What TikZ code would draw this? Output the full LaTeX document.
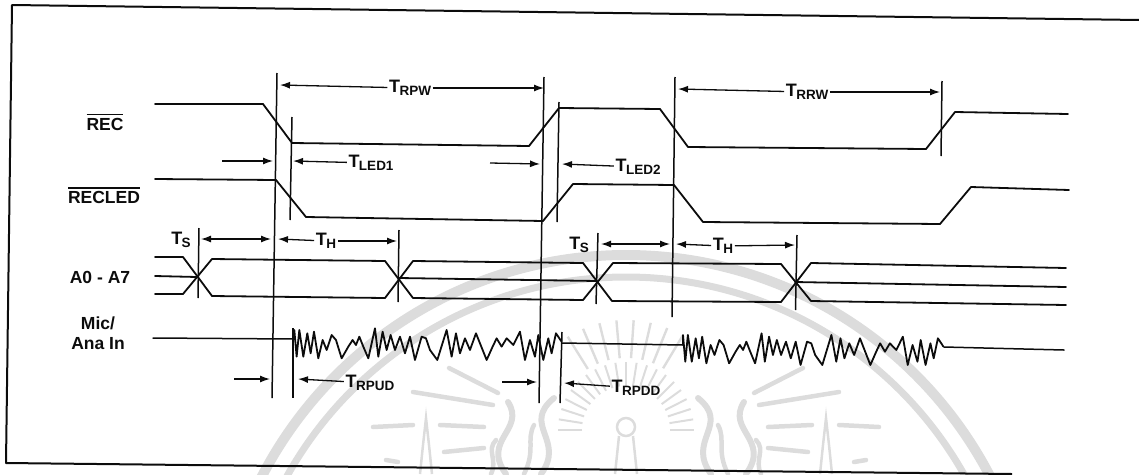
\documentclass[tikz,border=0pt]{standalone}
\usepackage{fontspec}
\setmainfont{Liberation Sans}
\usepackage{xcolor}
\usetikzlibrary{arrows.meta}
\definecolor{sealgray}{HTML}{DCDCDC}
\definecolor{ink}{HTML}{0C0C0C}
\newcommand{\tlab}[1]{{\fontsize{18}{18}\selectfont\bfseries T}\kern-0.5pt\raisebox{-3.5pt}{\fontsize{13.5}{13.5}\selectfont\bfseries #1}}
\newcommand{\barred}[1]{\vbox{\hrule height 1.4pt \kern 3pt \hbox{#1}}}
\newcommand{\noiseburst}{(583,268) \foreach \nx/\ny in {583/240,590/320,598/240,610/320,622/250,632/310,642/245,655/325,668/270,680/300,695/255,708/270,725/325,745/290,758/270,768/285,778/260,790/290,805/325,825/235,835/320,848/245,860/300,872/255,885/300,900/260,915/310,930/260,945/330,965/260,978/265,990/300,1012/330,1040/240,1055/320,1068/250,1080/310,1095/265,1110/300,1128/250,1160/330,1178/290,1190/265,1205/290,1220/265,1240/285,1260/245,1275/330,1290/270,1305/320,1315/255,1330/330,1345/265,1355/310,1368/250,1385/275}{ -- (\nx,\ny)}}
\tikzset{
  sig/.style={draw=ink,line width=1.8pt,line join=round,line cap=round},
  tick/.style={draw=ink,line width=1.5pt},
  dim/.style={draw=ink,line width=1.3pt},
  frameline/.style={draw=ink,line width=2pt,line join=round},
  seal/.style={draw=sealgray,line width=4.5pt,line cap=round},
  sigtext/.style={font=\fontsize{17.5}{20}\selectfont\bfseries,inner sep=0pt,text=ink,align=center},
  timetext/.style={inner sep=1.5pt,text=ink},
}
\begin{document}
\begin{tikzpicture}[x=1pt,y=-1pt,>={Latex[length=10pt,width=7pt]}]
  \useasboundingbox (0,0) rectangle (1139,474);
  % seal behind the drawing
  \begin{scope}
    \clip (0,0) rectangle (1139,474);
    \draw[draw=sealgray,line width=10pt] (626,665) circle[radius=410];
    \draw[draw=sealgray,line width=7pt] (626,665) circle[radius=388];
    \foreach \ang in {0,9,...,180}{
      \draw[draw=sealgray,line width=2pt] (626,430) ++(\ang:-44) -- ++(\ang:-24);
    }
    \foreach \ang in {58,67,...,122}{
      \draw[draw=sealgray,line width=2.4pt] (626,430) ++(\ang:-72) -- ++(\ang:-38);
    }
    \draw[draw=sealgray,line width=2.5pt] (626,427) circle[radius=9];
    \foreach \side in {1,-1}{
      \begin{scope}[shift={(626,0)},xscale=\side]
        \draw[draw=sealgray,line width=2.5pt] (7,436) -- (11,474);
        \draw[seal] (213,392) -- (133,405);
        \draw[seal] (177,368) -- (128,393);
        \draw[seal] (253,427) -- (213,425);
        \draw[seal] (186,425) -- (142,427);
        \draw[seal] (182,452) -- (142,448);
        \draw[seal] (240,460) -- (228,462);
        \draw[seal,line width=6pt] (120,474) .. controls (145,440) and (100,430) .. (118,402);
        \draw[seal,line width=6pt] (85,474) .. controls (60,440) and (105,425) .. (72,398);
        \draw[seal] (102,474) .. controls (90,450) and (100,440) .. (92,425);
        \draw[seal] (135,474) .. controls (128,460) and (140,450) .. (130,440);
        \draw[draw=sealgray,line width=2.5pt] (206,474) -- (203,445) -- (200,418) -- (197,445) -- (194,474);
      \end{scope}
    }
  \end{scope}
  % frame
  \coordinate (frameA) at (1139,20);
  \coordinate (frameB) at (12,5);
  \coordinate (frameC) at (6,463);
  \coordinate (frameD) at (1012,474);
  \draw[frameline] (frameA) -- (frameB) -- (frameC) -- (frameD);
  % signal names
  \node[sigtext] (rec) at (105,122) {\barred{REC}};
  \node[sigtext] (recled) at (104,195.5) {\barred{RECLED}};
  \node[sigtext] (addr) at (100,277) {A0 - A7};
  \node[sigtext] (mic) at (98,333.5) {Mic/\\Ana In};
  % waveforms
  \draw[sig] (155,104) -- (263,104) -- (292,143) -- (529,146) -- (559,108) -- (660,109) -- (688,147) -- (926,149) -- (955,112) -- (1068,114);
  \draw[sig] (155,179) -- (276,180) -- (306,217) -- (543,221) -- (573,184) -- (674,185) -- (703,222) -- (940,224) -- (971,187) -- (1069,190);
  \draw[sig] (155,257) -- (183,257) -- (212,296) -- (385,298) -- (413,261) -- (583,263) -- (612,301) -- (781,302) -- (811,263) -- (1066,268);
  \draw[sig] (155,294) -- (183,294) -- (212,259) -- (385,261) -- (413,298) -- (583,300) -- (613,263) -- (781,264) -- (811,301) -- (1066,305);
  \draw[sig] (155,276) -- (197,277);
  \draw[sig] (399,278) -- (597,281);
  \draw[sig] (795,282) -- (1066,287);
  \draw[sig,line width=1.5pt] (153,338) -- (293,339);
  \draw[sig,line width=1.5pt] (562,343) -- (683,345);
  \draw[sig,line width=1.5pt] (944,347) -- (1064,350);
  \begin{scope}[shift={(100,250)},x=0.3333pt,y=-0.3333pt]
    \draw[sig] \noiseburst;
  \end{scope}
  \begin{scope}[shift={(493.7,255)},x=0.3247pt,y=-0.3333pt]
    \draw[sig] \noiseburst;
  \end{scope}
  % time marks
  \draw[tick] (277,73) -- (272,398);
  \draw[tick] (292,117) -- (290,220);
  \draw[tick] (544,77) -- (539,403);
  \draw[tick] (559,102) -- (557,222);
  \draw[tick] (199,228) -- (198,298);
  \draw[tick] (399,230) -- (398,302);
  \draw[tick] (598,233) -- (596,304);
  \draw[tick] (797,235) -- (795.5,310);
  \draw[tick] (675,77) -- (672,317);
  \draw[tick] (942,81) -- (941,156);
  \draw[tick] (293,328) -- (293,398);
  \draw[tick] (562,332) -- (560,403);
  % time labels
  \node[timetext] (trpw) at (410,88) {\tlab{RPW}};
  \node[timetext] (trrw) at (807,92) {\tlab{RRW}};
  \node[timetext] (tled1) at (371,163) {\tlab{LED1}};
  \node[timetext] (tled2) at (638,167) {\tlab{LED2}};
  \node[timetext] (ts1) at (181,240) {\tlab{S}};
  \node[timetext] (th1) at (326,241) {\tlab{H}};
  \node[timetext] (ts2) at (579,245) {\tlab{S}};
  \node[timetext] (th2) at (723,246) {\tlab{H}};
  \node[timetext] (trpud) at (370,383) {\tlab{RPUD}};
  \node[timetext] (trpdd) at (636,388) {\tlab{RPDD}};
  % arrow ends
  \coordinate (rpwL) at (280,85);
  \coordinate (rpwR) at (544,88);
  \coordinate (rrwL) at (678,89);
  \coordinate (rrwR) at (940,92);
  \coordinate (ledA) at (222,161);
  \coordinate (ledB) at (273,161);
  \coordinate (ledC) at (293,161);
  \coordinate (ledD) at (490,163);
  \coordinate (ledE) at (540,164);
  \coordinate (ledF) at (562,164);
  \coordinate (tsAL) at (201,239);
  \coordinate (tsAR) at (271,239);
  \coordinate (thAL) at (278,239);
  \coordinate (thAR) at (397,241);
  \coordinate (tsBL) at (601,244);
  \coordinate (tsBR) at (670,244);
  \coordinate (thBL) at (676,244);
  \coordinate (thBR) at (795,245);
  \coordinate (pudA) at (234,379);
  \coordinate (pudB) at (270,379);
  \coordinate (pudC) at (298,379);
  \coordinate (pddA) at (502,382);
  \coordinate (pddB) at (537,382);
  \coordinate (pddC) at (564,383);
  % arrows
  \draw[dim,->] (trpw) -- (rpwL);
  \draw[dim,->] (trpw) -- (rpwR);
  \draw[dim,->] (trrw) -- (rrwL);
  \draw[dim,->] (trrw) -- (rrwR);
  \draw[dim,->] (ledA) -- (ledB);
  \draw[dim,->] (tled1) -- (ledC);
  \draw[dim,->] (ledD) -- (ledE);
  \draw[dim,->] (tled2) -- (ledF);
  \draw[dim,<->] (tsAL) -- (tsAR);
  \draw[dim,->] (th1) -- (thAL);
  \draw[dim,->] (th1) -- (thAR);
  \draw[dim,<->] (tsBL) -- (tsBR);
  \draw[dim,->] (th2) -- (thBL);
  \draw[dim,->] (th2) -- (thBR);
  \draw[dim,->] (pudA) -- (pudB);
  \draw[dim,->] (trpud) -- (pudC);
  \draw[dim,->] (pddA) -- (pddB);
  \draw[dim,->] (trpdd) -- (pddC);
\end{tikzpicture}
\end{document}
